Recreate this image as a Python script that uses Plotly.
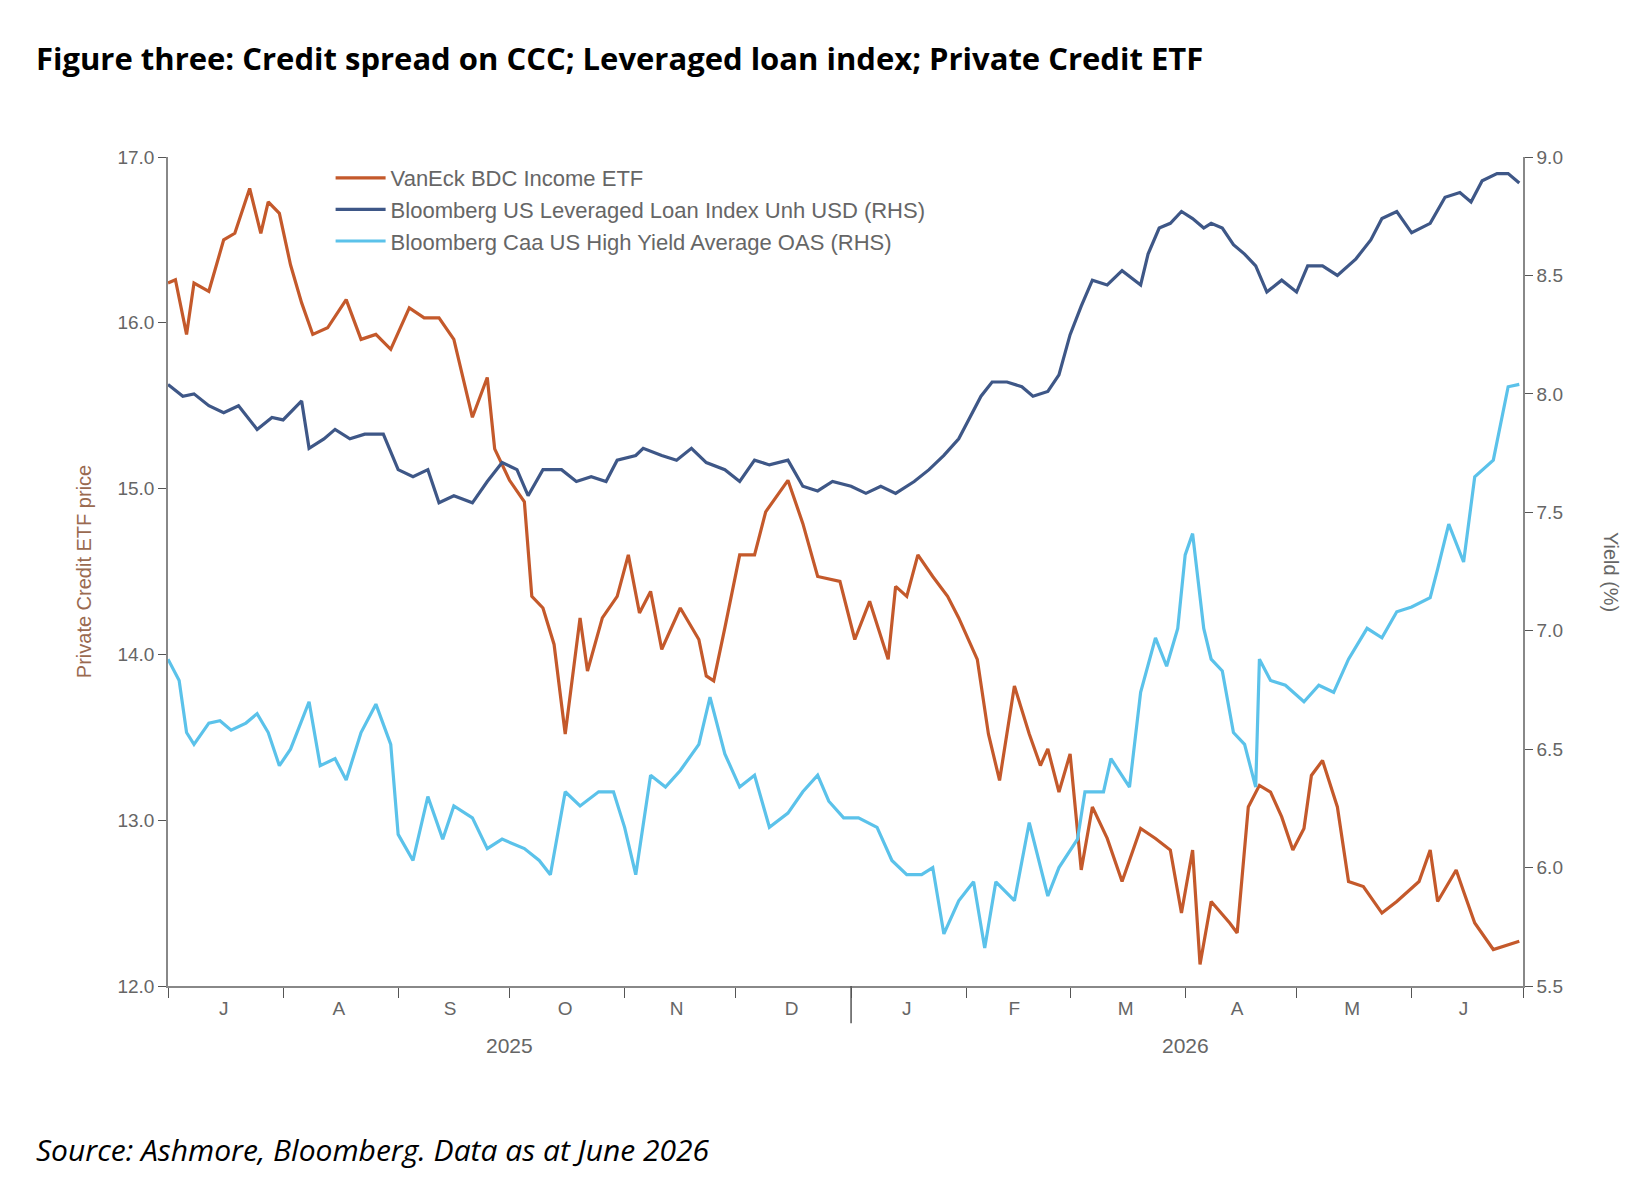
import plotly.graph_objects as go
import pandas as pd

start = pd.Timestamp("2025-07-01")

bdc_days = [0,2,5,7,11,15,18,22,25,27,30,33,36,39,43,48,52,56,60,65,69,73,77,82,86,88,92,96,98,101,104,107,111,113,117,121,124,127,130,133,138,143,145,147,150,154,158,161,167,171,175,181,185,189,194,196,199,202,206,210,213,218,221,224,228,232,235,237,240,243,246,249,253,257,262,266,270,273,276,278,281,286,288,291,294,297,300,303,306,308,311,315,318,322,327,331,337,340,342,347,349,352,357,361,364]
bdc_vals = [16.24,16.26,15.93,16.24,16.19,16.5,16.54,16.81,16.54,16.73,16.66,16.35,16.12,15.93,15.97,16.14,15.9,15.93,15.84,16.09,16.03,16.03,15.9,15.43,15.67,15.24,15.05,14.92,14.35,14.28,14.06,13.52,14.22,13.9,14.22,14.35,14.6,14.25,14.38,14.03,14.28,14.09,13.87,13.84,14.16,14.6,14.6,14.86,15.05,14.79,14.47,14.44,14.09,14.32,13.97,14.41,14.35,14.6,14.47,14.35,14.22,13.97,13.52,13.24,13.81,13.52,13.33,13.43,13.17,13.4,12.7,13.08,12.89,12.63,12.95,12.89,12.82,12.44,12.82,12.13,12.51,12.38,12.32,13.08,13.21,13.17,13.02,12.82,12.95,13.27,13.36,13.08,12.63,12.6,12.44,12.51,12.63,12.82,12.51,12.7,12.57,12.38,12.22,12.25,12.27]

loan_days = [0,4,7,11,15,19,24,28,31,36,38,42,45,49,53,58,62,66,70,73,77,82,86,90,94,97,101,106,110,114,118,121,126,128,133,137,141,145,150,154,158,162,167,171,175,179,184,188,192,196,201,205,209,213,216,219,222,226,230,233,237,240,243,246,249,253,257,262,264,267,270,273,276,279,281,284,287,290,293,296,300,304,307,311,315,320,324,327,331,335,340,344,348,351,354,358,361,364]
loan_vals = [8.04,7.99,8.0,7.95,7.92,7.95,7.85,7.9,7.89,7.97,7.77,7.81,7.85,7.81,7.83,7.83,7.68,7.65,7.68,7.54,7.57,7.54,7.63,7.71,7.68,7.57,7.68,7.68,7.63,7.65,7.63,7.72,7.74,7.77,7.74,7.72,7.77,7.71,7.68,7.63,7.72,7.7,7.72,7.61,7.59,7.63,7.61,7.58,7.61,7.58,7.63,7.68,7.74,7.81,7.9,7.99,8.05,8.05,8.03,7.99,8.01,8.08,8.25,8.37,8.48,8.46,8.52,8.46,8.59,8.7,8.72,8.77,8.74,8.7,8.72,8.7,8.63,8.59,8.54,8.43,8.48,8.43,8.54,8.54,8.5,8.57,8.65,8.74,8.77,8.68,8.72,8.83,8.85,8.81,8.9,8.93,8.93,8.89]

oas_days = [0,3,5,7,11,14,17,21,24,27,30,33,38,41,45,48,52,56,60,62,66,70,74,77,82,86,90,96,100,103,107,111,116,120,123,126,130,134,138,143,146,150,154,158,162,167,171,175,178,182,186,191,195,199,203,206,209,213,217,220,223,228,232,235,237,240,245,247,252,254,259,262,266,269,272,274,276,279,281,284,287,290,293,294,297,301,306,310,314,318,323,327,331,335,340,342,345,349,352,357,361,364]
oas_vals = [6.88,6.79,6.57,6.52,6.61,6.62,6.58,6.61,6.65,6.57,6.43,6.5,6.7,6.43,6.46,6.37,6.57,6.69,6.52,6.14,6.03,6.3,6.12,6.26,6.21,6.08,6.12,6.08,6.03,5.97,6.32,6.26,6.32,6.32,6.17,5.97,6.39,6.34,6.41,6.52,6.72,6.48,6.34,6.39,6.17,6.23,6.32,6.39,6.28,6.21,6.21,6.17,6.03,5.97,5.97,6.0,5.72,5.86,5.94,5.66,5.94,5.86,6.19,6.01,5.88,6.0,6.12,6.32,6.32,6.46,6.34,6.74,6.97,6.85,7.01,7.32,7.41,7.01,6.88,6.83,6.57,6.52,6.34,6.88,6.79,6.77,6.7,6.77,6.74,6.88,7.01,6.97,7.08,7.1,7.14,7.26,7.45,7.29,7.65,7.72,8.03,8.04]

month_labels = ["J","A","S","O","N","D","J","F","M","A","M","J"]
month_mids = ["2025-07-16","2025-08-16","2025-09-15","2025-10-16","2025-11-15","2025-12-16",
              "2026-01-16","2026-02-14","2026-03-16","2026-04-15","2026-05-16","2026-06-15"]

def dates(d):
    return [start + pd.Timedelta(days=x) for x in d]

ORANGE = "#C4592B"; NAVY = "#3E5787"; SKY = "#5BC2EA"; GREY = "#666666"

fig = go.Figure()
fig.add_trace(go.Scatter(x=dates(bdc_days), y=bdc_vals, name="VanEck BDC Income ETF",
                         line=dict(color=ORANGE, width=3.2)))
fig.add_trace(go.Scatter(x=dates(loan_days), y=loan_vals, name="Bloomberg US Leveraged Loan Index Unh USD (RHS)",
                         line=dict(color=NAVY, width=3.2), yaxis="y2"))
fig.add_trace(go.Scatter(x=dates(oas_days), y=oas_vals, name="Bloomberg Caa US High Yield Average OAS (RHS)",
                         line=dict(color=SKY, width=3.2), yaxis="y2"))

axfont = dict(family="Liberation Sans", size=19, color=GREY)
fig.update_layout(
    width=1649, height=1177, paper_bgcolor="white", plot_bgcolor="white",
    margin=dict(l=160, r=134, t=149, b=199),
    showlegend=True,
    legend=dict(x=0.12, y=1.0, xanchor="left", yanchor="top", bgcolor="rgba(0,0,0,0)",
                font=dict(family="Liberation Sans", size=22, color=GREY), tracegroupgap=0, itemwidth=50),
    xaxis=dict(range=["2025-07-01", "2026-07-01"], tickvals=month_mids, ticktext=month_labels,
               ticks="", showgrid=False, showline=True, linecolor="#888", linewidth=1.5,
               tickfont=axfont, ticklabelstandoff=4,
               minor=dict(ticks="outside", tickvals=["2025-%02d-01" % m for m in range(7, 13)] + ["2026-%02d-01" % m for m in range(1, 8)],
                          ticklen=10, tickcolor="#555", showgrid=False)),
    yaxis=dict(range=[12, 17], dtick=1, tickformat=".1f", showgrid=False, showline=True,
               linecolor="#888", linewidth=1.5, ticks="outside", ticklen=8, tickcolor="#555",
               tickfont=axfont, zeroline=False,
               title=dict(text="Private Credit ETF price", font=dict(family="Liberation Sans", size=20, color="#9A6A50"), standoff=20)),
    yaxis2=dict(range=[5.5, 9.0], dtick=0.5, tickformat=".1f", overlaying="y", side="right",
                showgrid=False, showline=True, linecolor="#888", linewidth=1.5, ticks="outside",
                ticklen=8, tickcolor="#555", tickfont=axfont, zeroline=False),
)
fig.add_shape(type="line", xref="x", yref="paper", x0="2026-01-01", x1="2026-01-01", y0=0, y1=-0.045,
              line=dict(color="#555", width=1.5))
for txt, xd in [("2025", "2025-10-01"), ("2026", "2026-04-01")]:
    fig.add_annotation(x=xd, y=-0.055, xref="x", yref="paper", text=txt, showarrow=False,
                       yanchor="top", font=dict(family="Liberation Sans", size=21, color=GREY))
fig.add_annotation(x=1.075, y=0.5, xref="paper", yref="paper", text="Yield (%)", textangle=90,
                   showarrow=False, font=dict(family="Liberation Sans", size=20, color=GREY))
fig.add_annotation(x=-0.099, y=1.12, xref="paper", yref="paper", xanchor="left", yanchor="middle",
                   text="<b>Figure three: Credit spread on CCC; Leveraged loan index; Private Credit ETF</b>",
                   showarrow=False, font=dict(family="Open Sans", size=31, color="black"))
fig.add_annotation(x=-0.099, y=-0.17, xref="paper", yref="paper", xanchor="left", yanchor="top",
                   text="<i>Source: Ashmore, Bloomberg. Data as at June 2026</i>",
                   showarrow=False, font=dict(family="Open Sans", size=30, color="black"))

fig.write_html("out.html")
